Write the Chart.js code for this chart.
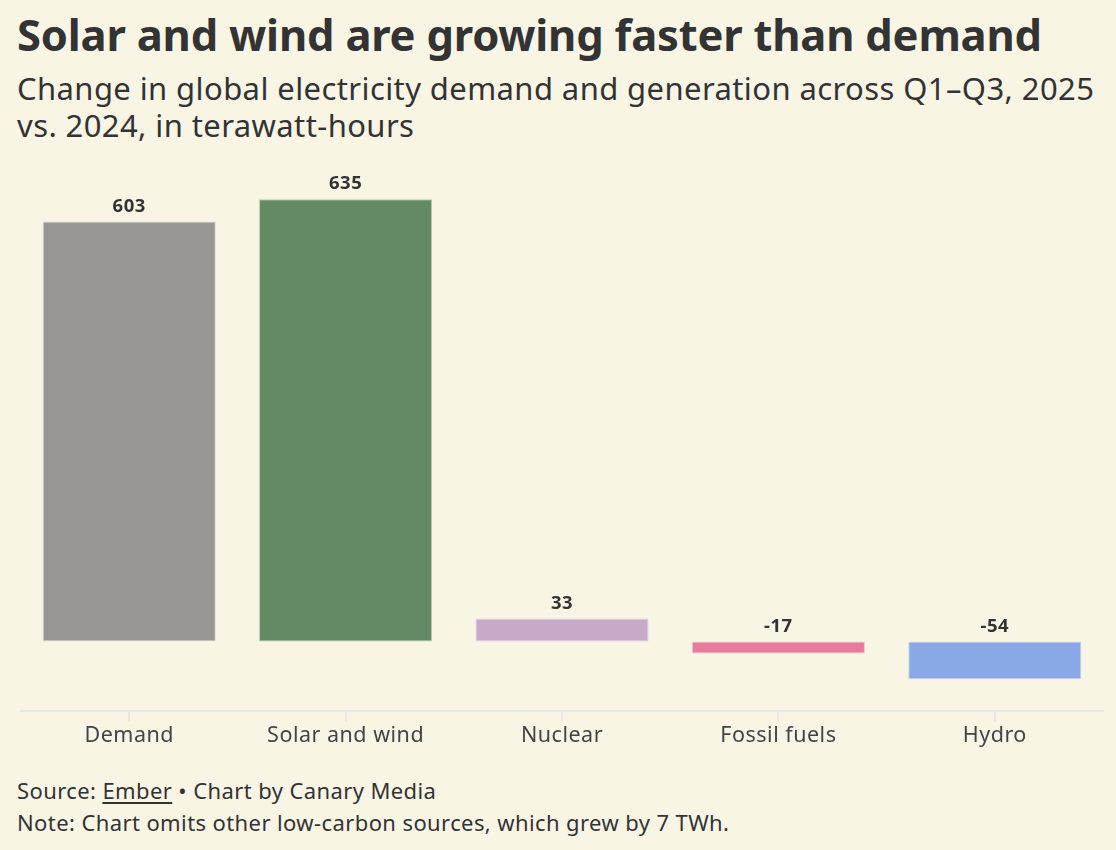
<!DOCTYPE html>
<html>
<head>
<meta charset="utf-8">
<script src="https://cdn.jsdelivr.net/npm/chart.js@4"></script>
<style>
  html, body { margin:0; padding:0; background:#f8f5e5; }
  body { width:1116px; height:850px; position:relative; overflow:hidden; font-family:"Noto Sans", sans-serif; color:#333; }
  #title { position:absolute; left:17px; top:4px; font-size:43.5px; font-weight:700; letter-spacing:-0.2px; color:#333; white-space:nowrap; }
  #subtitle { position:absolute; left:17px; top:70px; font-size:31px; line-height:37px; letter-spacing:0.4px; color:#333; width:1098px; }
  #wrap { position:absolute; left:0; top:150px; width:1116px; height:601px; }
  #foot { position:absolute; left:17px; top:774px; font-size:22px; line-height:32px; letter-spacing:0.4px; color:#333; }
  #foot u { text-decoration:underline; text-underline-offset:3px; }
</style>
</head>
<body>
<div id="title">Solar and wind are growing faster than demand</div>
<div id="subtitle">Change in global electricity demand and generation across Q1–Q3, 2025 vs. 2024, in terawatt-hours</div>
<div id="wrap"><canvas id="c"></canvas></div>
<div id="foot">Source: <u>Ember</u> • Chart by Canary Media<br>Note: Chart omits other low-carbon sources, which grew by 7 TWh.</div>
<script>
const categories = ["Demand", "Solar and wind", "Nuclear", "Fossil fuels", "Hydro"];
const values = [603, 635, 33, -17, -54];
const barColors = ["#999794", "#638a63", "#c7a9c8", "#e77b9c", "#8aa7e6"];
const borderColors = ["#d9d7d0", "#b9cbb4", "#e2d3dd", "#f3c2cf", "#c9d6f2"];

const labelPlugin = {
  id: 'valueLabels',
  beforeDraw(chart) {
    chart.ctx.letterSpacing = '0.5px';
  },
  afterDatasetsDraw(chart) {
    const ctx = chart.ctx;
    const meta = chart.getDatasetMeta(0);
    const y = chart.scales.y;
    ctx.save();
    ctx.font = '700 18.5px "Noto Sans", sans-serif';
    ctx.fillStyle = '#333';
    ctx.textAlign = 'center';
    ctx.textBaseline = 'alphabetic';
    meta.data.forEach((bar, i) => {
      const v = values[i];
      const top = y.getPixelForValue(Math.max(v, 0));
      ctx.fillText(String(v), bar.x, top - 10);
    });
    ctx.restore();
  }
};

new Chart(document.getElementById('c'), {
  type: 'bar',
  data: {
    labels: categories,
    datasets: [{
      data: values,
      backgroundColor: barColors,
      borderColor: borderColors,
      borderWidth: 1,
      borderSkipped: false,
      barPercentage: 0.8,
      categoryPercentage: 1.0
    }]
  },
  options: {
    responsive: true,
    maintainAspectRatio: false,
    animation: false,
    layout: { padding: { left: 21, right: 13, top: 4, bottom: 0 } },
    plugins: { legend: { display: false }, tooltip: { enabled: false } },
    scales: {
      x: {
        grid: { display: true, offset: false, drawOnChartArea: false, drawTicks: true, tickLength: 10, color: '#e8e6e6', lineWidth: 2 },
        border: { display: true, color: '#e8e6e6', width: 2 },
        ticks: { color: '#444', font: { family: '"Noto Sans", sans-serif', size: 21.5 }, padding: 2 }
      },
      y: {
        display: false,
        min: -100,
        max: 700
      }
    }
  },
  plugins: [labelPlugin]
});
</script>
</body>
</html>
